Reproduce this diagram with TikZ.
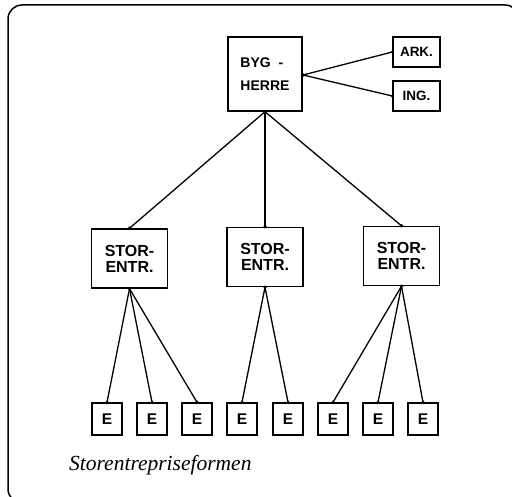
\documentclass[tikz,border=0pt]{standalone}
\usepackage{fontspec}
\setmainfont{Liberation Serif}
\setsansfont{Liberation Sans}
\begin{document}
\begin{tikzpicture}[x=1pt,y=-1pt,
  box/.style={draw,line width=1.4pt,inner sep=0pt,font=\sffamily\bfseries},
  ebox/.style={box,minimum width=30pt,minimum height=32pt,font=\sffamily\bfseries\fontsize{15.5}{15.5}\selectfont},
  sbox/.style={box,minimum width=76pt,minimum height=59pt,align=center,font=\sffamily\bfseries\fontsize{16}{16}\selectfont},
  link/.style={line width=1.3pt},
  dot/.style={circle,fill,inner sep=0pt,minimum size=3.6pt}]
\useasboundingbox (0,0) rectangle (512,497);
\draw[line width=1.5pt,rounded corners=14pt] (8,5) rectangle (519,503);
% top
\node[box,minimum width=74pt,minimum height=74pt,align=left,font=\sffamily\bfseries\fontsize{14}{23}\selectfont] (byg) at (265,74) {BYG\ \ -\\HERRE};
\node[box,minimum width=47pt,minimum height=30pt,font=\sffamily\bfseries\fontsize{13.5}{14}\selectfont] (ark) at (416.5,52) {ARK.};
\node[box,minimum width=47pt,minimum height=30pt,font=\sffamily\bfseries\fontsize{13.5}{14}\selectfont] (ing) at (416.5,96) {ING.};
\coordinate (br) at (303,75);
\draw[link] (br) -- (ark.west);
\draw[link] (br) -- (ing.west);
\node[dot] at (br) {};
\node[dot] at (ark.west) {};
\node[dot] at (ing.west) {};
% stor
\node[sbox] (s1) at (129.5,258.5) {STOR-\\ENTR.};
\node[sbox] (s2) at (265,257) {STOR-\\ENTR.};
\node[sbox] (s3) at (401.5,256) {STOR-\\ENTR.};
\foreach \s in {s1,s2,s3}{
  \draw[link] (byg.south) -- (\s.north);
  \node[dot] at (\s.north) {};
}
\node[dot] at (byg.south) {};
% E boxes
\foreach \i/\x in {1/107,2/152,3/197,4/242,5/288,6/333,7/378,8/423}{
  \node[ebox] (e\i) at (\x,419) {E};
}
\foreach \s/\e in {s1/e1,s1/e2,s1/e3,s2/e4,s2/e5,s3/e6,s3/e7,s3/e8}{
  \draw[link] (\s.south) -- (\e.north);
  \node[dot] at (\e.north) {};
}
\foreach \s in {s1,s2,s3}{\node[dot] at (\s.south) {};}
\node[anchor=base west,inner sep=0pt,font=\itshape\fontsize{21.5}{22}\selectfont] (cap) at (69,470) {Storentrepriseformen};
\end{tikzpicture}
\end{document}
